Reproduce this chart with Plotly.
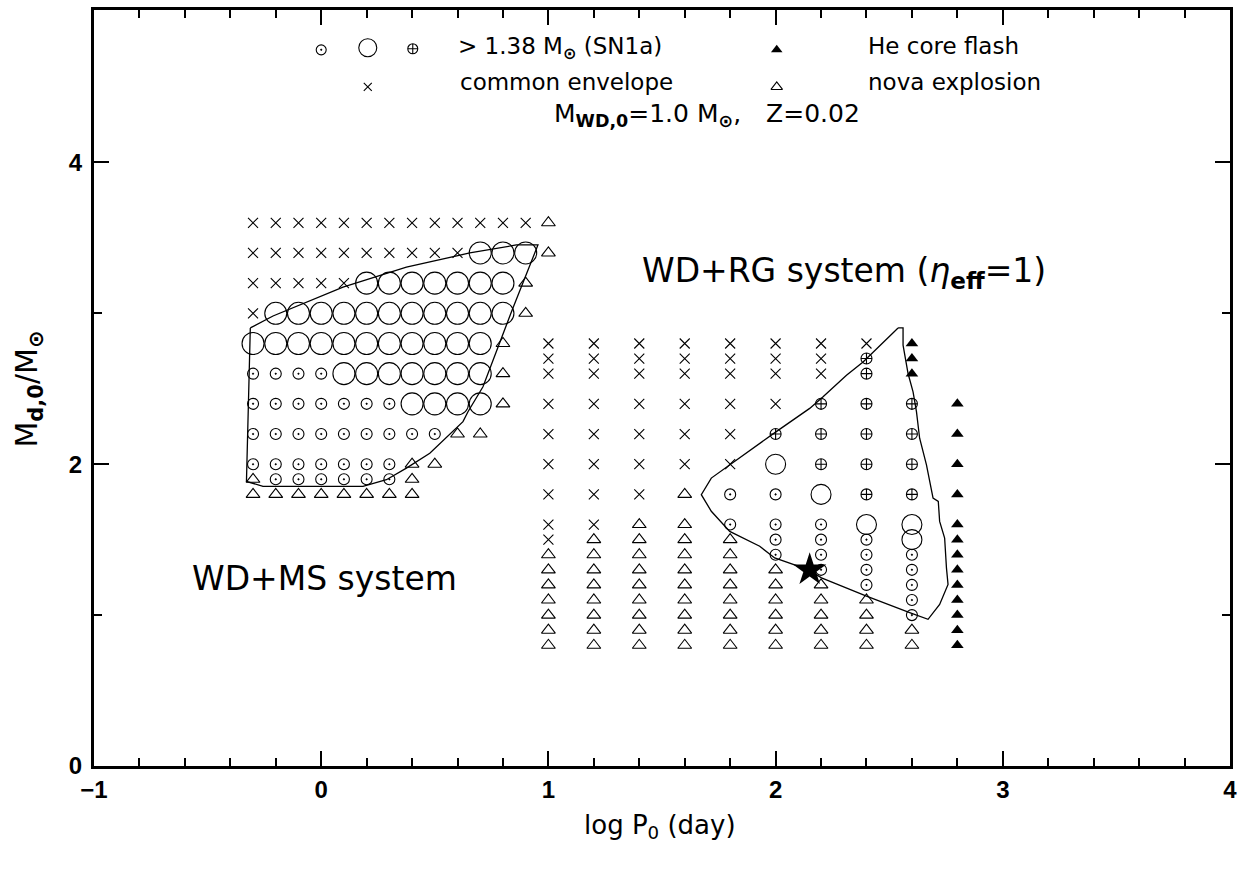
import plotly.graph_objects as go

# ---- WD+MS grid: log P0 columns and donor-mass rows ----
# outcome codes: x = common envelope, o = SN Ia (small), O = SN Ia (large),
#                + = SN Ia (crossed), t = nova explosion, f = He core flash, . = none
ms_logp = [-0.3, -0.2, -0.1, 0.0, 0.1, 0.2, 0.3, 0.4, 0.5, 0.6, 0.7, 0.8, 0.9, 1.0]
ms_mass = [3.6, 3.4, 3.2, 3.0, 2.8, 2.6, 2.4, 2.2, 2.0, 1.9, 1.8]
ms_rows = [
    "xxxxxxxxxxxxxt",
    "xxxxxxxxxxOOOt",
    "xxxxxOOOOOOOt.",
    "xOOOOOOOOOOOt.",
    "OOOOOOOOOOOt..",
    "ooooOOOOOOOt..",
    "oooooooOOOOt..",
    "ooooooooott...",
    "ooooooott.....",
    "toooooot......",
    "tttttttt......",
]

# ---- WD+RG grid: one string per log P0 column, top row first ----
rg_logp = [1.0, 1.2, 1.4, 1.6, 1.8, 2.0, 2.2, 2.4, 2.6, 2.8]
rg_mass = [2.8, 2.7, 2.6, 2.4, 2.2, 2.0, 1.8, 1.6, 1.5, 1.4, 1.3, 1.2, 1.1, 1.0, 0.9, 0.8]
rg_cols = [
    "xxxxxxxxxttttttt",
    "xxxxxxxxtttttttt",
    "xxxxxxxttttttttt",
    "xxxxxxtttttttttt",
    "xxxxxxootttttttt",
    "xxxx+Oooootttttt",
    "xxx+++Ooooottttt",
    "x++++++Oooootttt",
    "fff++++OOooooott",
    "...fffffffffffff",
]

# SN Ia region boundaries
ms_edge_x = [-0.312, -0.212, 0.096, 0.375, 0.654, 0.859, 0.954, 0.888, 0.837, 0.712,
             0.646, 0.624, 0.478, 0.375, 0.287, 0.184, -0.256, -0.329, -0.312]
ms_edge_y = [2.903, 2.982, 3.174, 3.306, 3.400, 3.453, 3.453, 3.207, 3.009, 2.513,
             2.348, 2.282, 2.073, 1.974, 1.897, 1.853, 1.853, 1.886, 2.903]

rg_edge_x = [2.539, 2.561, 2.561, 2.583, 2.605, 2.620, 2.634, 2.664, 2.693, 2.716,
             2.722, 2.744, 2.752, 2.759, 2.722, 2.671, 2.590, 2.400, 2.202, 2.143,
             1.996, 1.930, 1.798, 1.717, 1.673, 1.717, 2.003, 2.150, 2.209, 2.312,
             2.385, 2.539]
rg_edge_y = [2.903, 2.903, 2.789, 2.601, 2.480, 2.348, 2.172, 1.996, 1.775, 1.754,
             1.621, 1.511, 1.313, 1.203, 1.071, 0.972, 1.016, 1.126, 1.247, 1.302,
             1.379, 1.456, 1.555, 1.688, 1.798, 1.908, 2.216, 2.370, 2.447, 2.590,
             2.678, 2.903]

# the marked system
star_logp = [2.15]
star_mass = [1.30]

BLACK = "black"


def style(code, big):
    if code == "x":
        return dict(symbol="x-thin-open", size=10, color=BLACK, line=dict(color=BLACK, width=1.1))
    if code == "o":
        return dict(symbol="circle-open-dot", size=11, color=BLACK, line=dict(color=BLACK, width=1.1))
    if code == "O":
        return dict(symbol="circle-open", size=big, color=BLACK, line=dict(color=BLACK, width=1.1))
    if code == "+":
        return dict(symbol="circle-cross-open", size=11, color=BLACK, line=dict(color=BLACK, width=1.1))
    if code == "t":
        return dict(symbol="triangle-up-open", size=12, color=BLACK, line=dict(color=BLACK, width=1.1))
    if code == "f":
        return dict(symbol="triangle-up", size=11, color=BLACK, line=dict(color=BLACK, width=0))


def collect(points):
    groups = {}
    for code, x, y in points:
        if code == ".":
            continue
        groups.setdefault(code, ([], []))
        groups[code][0].append(x)
        groups[code][1].append(y)
    return groups


ms_points = [(c, ms_logp[j], ms_mass[i])
             for i, row in enumerate(ms_rows) for j, c in enumerate(row)]
rg_points = [(c, rg_logp[j], rg_mass[i])
             for j, col in enumerate(rg_cols) for i, c in enumerate(col)]

fig = go.Figure()

for pts, big in ((ms_points, 22), (rg_points, 20)):
    for code, (xs, ys) in collect(pts).items():
        fig.add_trace(go.Scatter(x=xs, y=ys, mode="markers", marker=style(code, big),
                                 showlegend=False, hoverinfo="skip"))

for ex, ey in ((ms_edge_x, ms_edge_y), (rg_edge_x, rg_edge_y)):
    fig.add_trace(go.Scatter(x=ex, y=ey, mode="lines", line=dict(color=BLACK, width=1.3),
                             showlegend=False, hoverinfo="skip"))

fig.add_trace(go.Scatter(x=star_logp, y=star_mass, mode="markers",
                         marker=dict(symbol="star", size=25, color=BLACK, line=dict(width=0)),
                         showlegend=False, hoverinfo="skip"))

# key symbols at the top of the panel
key = [
    ("o", 0.0, 4.746, 10), ("O", 0.205, 4.76, 18), ("+", 0.403, 4.753, 10),
    ("x", 0.205, 4.50, 8), ("f", 2.005, 4.746, 10), ("t", 2.005, 4.50, 10),
]
for code, kx, ky, ks in key:
    m = style(code, ks)
    m["size"] = ks
    fig.add_trace(go.Scatter(x=[kx], y=[ky], mode="markers", marker=m,
                             showlegend=False, hoverinfo="skip"))

FONT = "DejaVu Sans"
txt = dict(family=FONT, size=23, color=BLACK)
SUN = "⊙"
notes = [
    ("&gt; 1.38 M<sub><b>" + SUN + "</b></sub> (SN1a)", 0.592, 4.759, "left", txt),
    ("common envelope", 0.601, 4.534, "left", txt),
    ("He core flash", 2.396, 4.772, "left", txt),
    ("nova explosion", 2.396, 4.534, "left", txt),
    ("M<sub><b>WD,0</b></sub>=1.0 M<sub><b>" + SUN + "</b></sub>,\u2003Z=0.02",
     1.70, 4.317, "center", dict(family=FONT, size=25, color=BLACK)),
    ("WD+RG system (<i>η</i><sub><b>eff</b></sub>=1)", 1.402, 3.273, "left",
     dict(family=FONT, size=33, color=BLACK)),
    ("WD+MS system", -0.579, 1.245, "left", dict(family=FONT, size=33, color=BLACK)),
]
for text, ax, ay, anchor, f in notes:
    fig.add_annotation(x=ax, y=ay, xref="x", yref="y", text=text, showarrow=False,
                       xanchor=anchor, yanchor="middle", font=f)

# axis titles
fig.add_annotation(x=0.498, y=-0.08, xref="paper", yref="paper",
                   text="log P<sub>0</sub> (day)", showarrow=False,
                   xanchor="center", yanchor="middle", font=dict(family=FONT, size=26, color=BLACK))
fig.add_annotation(x=-0.058, y=0.498, xref="paper", yref="paper",
                   text="M<sub><b>d,0</b></sub>/M<sub><b>" + SUN + "</b></sub>", showarrow=False,
                   textangle=-90, xanchor="center", yanchor="middle",
                   font=dict(family=FONT, size=30, color=BLACK))

axis_common = dict(
    showgrid=False, zeroline=False, showline=True, linecolor=BLACK, linewidth=3,
    mirror="ticks", ticks="inside", tickcolor=BLACK, tickwidth=2, ticklen=15,
    tickfont=dict(family="Liberation Sans", size=24, color=BLACK, weight="bold"),
)

fig.update_xaxes(range=[-1, 4], tickmode="linear", tick0=-1, dtick=1,
                 minor=dict(dtick=0.2, ticks="inside", ticklen=8, tickwidth=2, tickcolor=BLACK),
                 ticklabelstandoff=0, **axis_common)
fig.update_yaxes(range=[0, 5.01], tickmode="array", tickvals=[0, 2, 4],
                 minor=dict(tickvals=[1, 3], ticks="inside", ticklen=8, tickwidth=2, tickcolor=BLACK),
                 ticklabelstandoff=4, **axis_common)

fig.update_layout(width=1246, height=872, margin=dict(l=94, r=16, t=7, b=106),
                  plot_bgcolor="white", paper_bgcolor="white", showlegend=False)

fig.write_html("out.html")
